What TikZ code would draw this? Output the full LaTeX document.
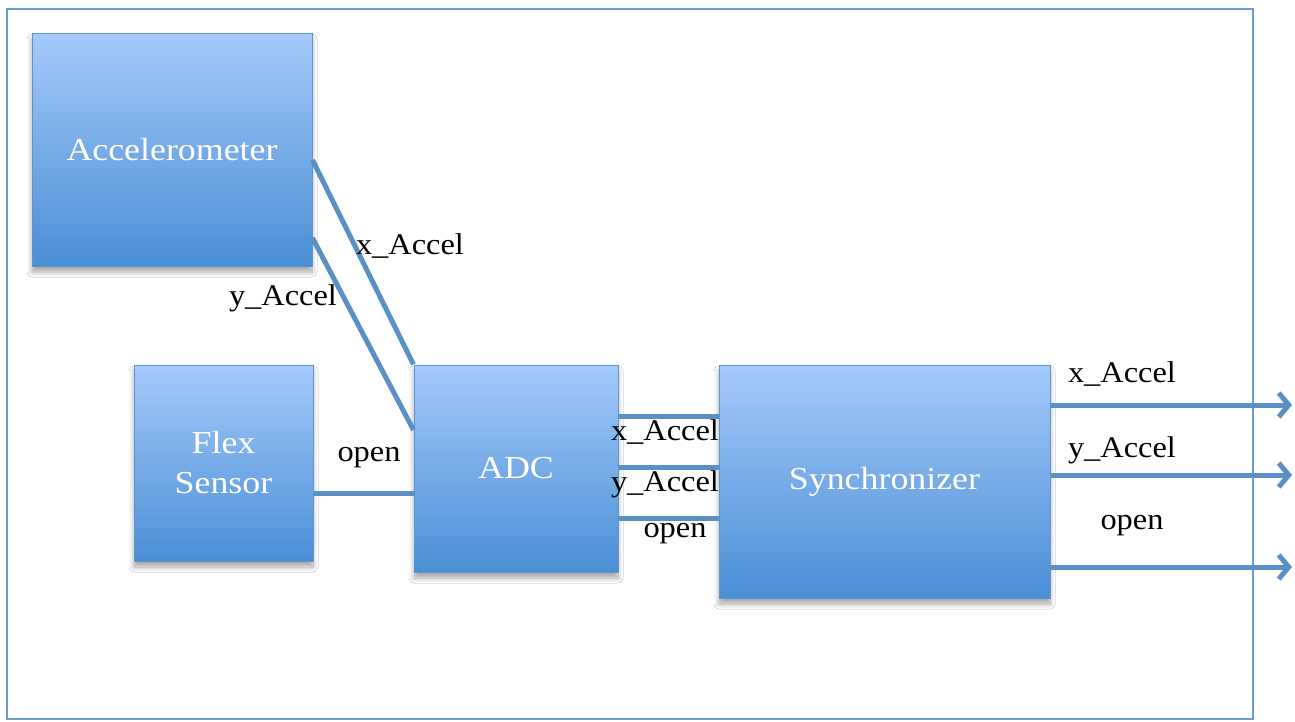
\documentclass[tikz,border=0pt]{standalone}
\usepackage{fontspec}
\setmainfont[FakeStretch=1.08]{Liberation Serif}
\newfontfamily\boxfont[FakeStretch=1.12]{Liberation Serif}
\usetikzlibrary{arrows.meta,shadows.blur,calc}
\definecolor{boxtop}{HTML}{A5C9FB}
\definecolor{boxbot}{HTML}{4A8FD5}
\definecolor{boxedge}{HTML}{5E93CC}
\definecolor{wire}{HTML}{5B90C5}
\definecolor{frame}{HTML}{6C9BD2}
\tikzset{
  blk/.style={rectangle, inner sep=0pt, top color=boxtop, bottom color=boxbot,
    draw=boxedge, line width=1pt, text=white, font=\boxfont\fontsize{32}{40}\selectfont,
    align=center, blur shadow={shadow xshift=0pt, shadow yshift=-6pt, shadow blur steps=8, shadow blur radius=5pt, shadow opacity=35}},
  wireline/.style={draw=wire, line width=5pt},
  arrowline/.style={draw=wire, line width=5pt, -{Straight Barb[length=10pt,width=24pt,line width=5pt]}},
  lbl/.style={font=\fontsize{30}{34}\selectfont, inner sep=0pt, text=black}
}
\begin{document}
\begin{tikzpicture}[x=1pt,y=-1pt]
\useasboundingbox (0,0) rectangle (1295,721);
\fill[white] (0,0) rectangle (1295,721);
\draw[frame, line width=1.8pt] (7,9) rectangle (1253,719);

\node[blk, minimum width=280pt, minimum height=233pt] (acc) at (172,149.5) {Accelerometer};
\node[blk, minimum width=179pt, minimum height=196pt] (flex) at (223.5,463) {Flex\\Sensor};
\node[blk, minimum width=204pt, minimum height=207pt] (adc) at (516,468.5) {ADC};
\node[blk, minimum width=331pt, minimum height=233pt] (sync) at (884.5,481.5) {Synchronizer};

\coordinate (o1) at (1292,405);
\coordinate (o2) at (1292,475);
\coordinate (o3) at (1292,567);

\draw[wireline] (acc.east |- 0,160) -- (adc.north west);
\draw[wireline] (acc.east |- 0,238) -- (adc.west |- 0,430);
\draw[wireline] (flex.east |- 0,493) -- (adc.west |- 0,493);
\draw[wireline] (adc.east |- 0,416) -- (sync.west |- 0,416);
\draw[wireline] (adc.east |- 0,467) -- (sync.west |- 0,467);
\draw[wireline] (adc.east |- 0,518) -- (sync.west |- 0,518);
\draw[arrowline] (sync.east |- o1) -- (o1);
\draw[arrowline] (sync.east |- o2) -- (o2);
\draw[arrowline] (sync.east |- o3) -- (o3);

\node[lbl] (l1) at (410,246) {x\_Accel};
\node[lbl] (l2) at (283,298) {y\_Accel};
\node[lbl] (l3) at (369,458) {open};
\node[lbl] (l4) at (665,432) {x\_Accel};
\node[lbl] (l5) at (665,484) {y\_Accel};
\node[lbl] (l6) at (675,534) {open};
\node[lbl] (l7) at (1122,374) {x\_Accel};
\node[lbl] (l8) at (1122,450) {y\_Accel};
\node[lbl] (l9) at (1132,526) {open};
\end{tikzpicture}
\end{document}
